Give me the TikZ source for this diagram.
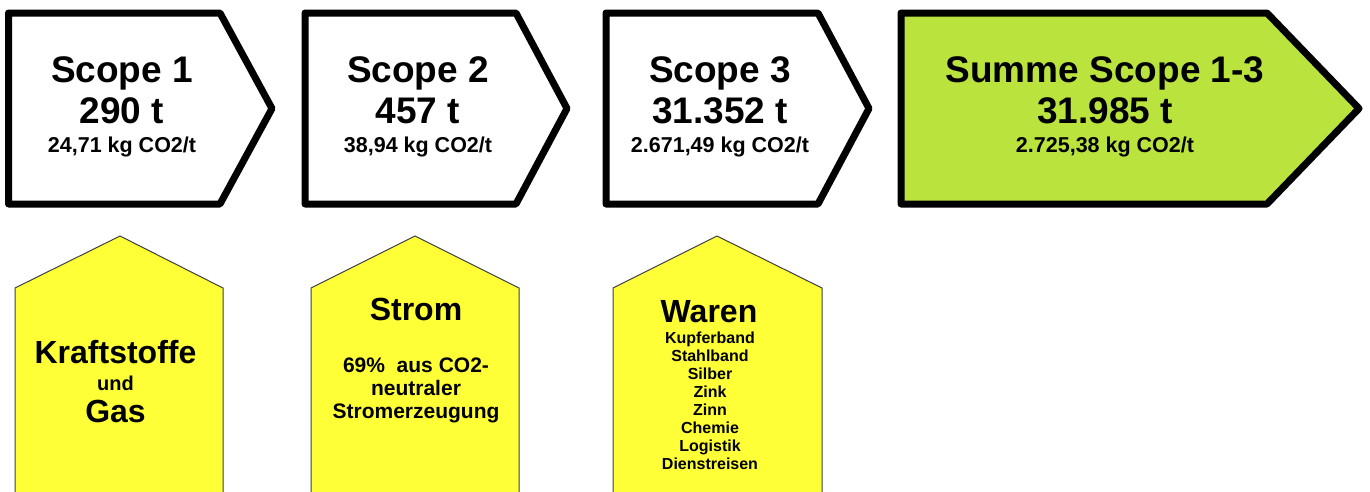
\documentclass[tikz,border=0pt]{standalone}
\usepackage{fontspec}
\setmainfont{Liberation Sans}
\definecolor{sumgreen}{HTML}{BBE33D}
\definecolor{boxyellow}{HTML}{FFFF38}
\begin{document}
\begin{tikzpicture}[x=1pt,y=-1pt,
  arrowbox/.style={draw=black,line width=7pt,line join=round},
  housebox/.style={draw=black!75,line width=1pt,fill=boxyellow},
  big/.style={font=\fontsize{37}{40}\selectfont\bfseries,anchor=base,inner sep=0pt},
  small/.style={font=\fontsize{21.5}{24}\selectfont\bfseries,anchor=base,inner sep=0pt},
  mid/.style={font=\fontsize{32}{34}\selectfont\bfseries,anchor=base,inner sep=0pt},
  txt/.style={font=\fontsize{21}{24}\selectfont\bfseries,anchor=base,inner sep=0pt},
  list/.style={font=\fontsize{16}{18}\selectfont\bfseries,anchor=base,inner sep=0pt}]
\clip (0,0) rectangle (1370,491);
\fill[white] (0,0) rectangle (1370,491);
% arrow boxes
\draw[arrowbox,fill=white] (8.5,13) -- (220,13) -- (272,108.5) -- (220,204) -- (8.5,204) -- cycle;
\draw[arrowbox,fill=white] (305,13) -- (516,13) -- (567,108.5) -- (516,204) -- (305,204) -- cycle;
\draw[arrowbox,fill=white] (606,13) -- (818,13) -- (869,108.5) -- (818,204) -- (606,204) -- cycle;
\draw[arrowbox,fill=sumgreen] (901,13) -- (1267,13) -- (1359,108.5) -- (1267,204) -- (901,204) -- cycle;
% houses
\draw[housebox] (15,500) -- (15,288) -- (120,236) -- (223,288) -- (223,500);
\draw[housebox] (311,500) -- (311,288) -- (415,236) -- (519,288) -- (519,500);
\draw[housebox] (613,500) -- (613,288) -- (717,236) -- (822,288) -- (822,500);
% box texts
\node[big] (s1a) at (122,82) {Scope 1};
\node[big] (s1b) at (122,123) {290 t};
\node[small] (s1c) at (122,152) {24,71 kg CO2/t};
\node[big] (s2a) at (418,82) {Scope 2};
\node[big] (s2b) at (418,123) {457 t};
\node[small] (s2c) at (418,152) {38,94 kg CO2/t};
\node[big] (s3a) at (720,82) {Scope 3};
\node[big] (s3b) at (720,123) {31.352 t};
\node[small] (s3c) at (720,152) {2.671,49 kg CO2/t};
\node[big] (s4a) at (1105,82) {Summe Scope 1-3};
\node[big] (s4b) at (1105,123) {31.985 t};
\node[small] (s4c) at (1105,152) {2.725,38 kg CO2/t};
% house texts
\node[mid] (k1) at (115.5,363) {Kraftstoffe};
\node[txt,font=\fontsize{20}{22}\selectfont\bfseries] (k2) at (115.5,390) {und};
\node[mid] (k3) at (115.5,422) {Gas};
\node[mid] (st1) at (416,320) {Strom};
\node[txt] (st2) at (416,372) {69\%\ \ aus CO2-};
\node[txt] (st3) at (416,395) {neutraler};
\node[txt] (st4) at (416,418) {Stromerzeugung};
\node[mid] (w0) at (709,322) {Waren};
\node[list] (w1) at (710,343) {Kupferband};
\node[list] (w2) at (710,361) {Stahlband};
\node[list] (w3) at (710,379) {Silber};
\node[list] (w4) at (710,397) {Zink};
\node[list] (w5) at (710,415) {Zinn};
\node[list] (w6) at (710,433) {Chemie};
\node[list] (w7) at (710,451) {Logistik};
\node[list] (w8) at (710,469) {Dienstreisen};
\end{tikzpicture}
\end{document}
